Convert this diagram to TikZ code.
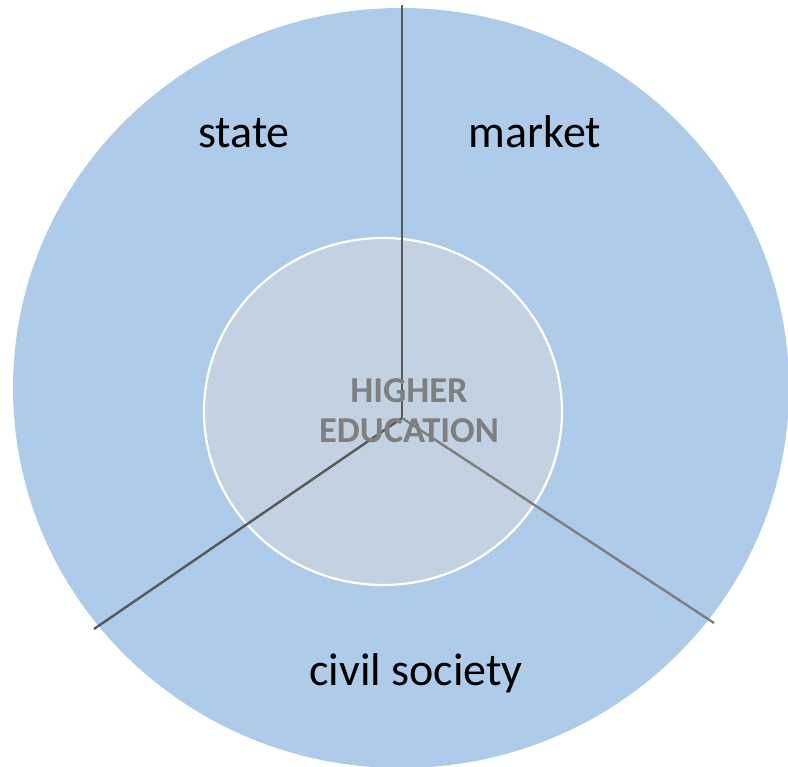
\documentclass[tikz,border=0pt]{standalone}
\usepackage{fontspec}
\setmainfont{Carlito}
\definecolor{outerblue}{HTML}{AECCEA}
\definecolor{innerblue}{HTML}{C2D2E2}
\definecolor{darkline}{HTML}{595959}
\definecolor{lightline}{HTML}{7F7F7F}
\definecolor{hetext}{HTML}{7F7F7F}
\begin{document}
\begin{tikzpicture}[x=1pt,y=-1pt,
  sector/.style={font=\fontsize{46}{50}\selectfont, anchor=base, inner sep=0pt},
  divider/.style={line width=2.4pt},
  core/.style={font=\bfseries\fontsize{36.5}{40}\selectfont, text=hetext, align=center, inner sep=0pt}]
\useasboundingbox (0,0) rectangle (788,767);
\clip (0,0) rectangle (788,767);
\fill[outerblue] (401,388) ellipse [x radius=388, y radius=380];
\filldraw[fill=innerblue, draw=white, line width=2.2pt] (383,411.5) ellipse [x radius=179, y radius=173.5];
\coordinate (c) at (402,418);
\coordinate (top) at (402,5);
\coordinate (bl) at (94,629);
\coordinate (br) at (714,623);
\draw[divider, darkline] (c) -- (top);
\draw[divider, darkline] (c) -- (bl);
\draw[divider, lightline] (c) -- (br);
\node[sector] (state) at (244,148) {state};
\node[sector] (market) at (535,148) {market};
\node[sector] (civil) at (416,685) {civil society};
\node[core] (he) at (409,411) {HIGHER\\EDUCATION};
\end{tikzpicture}
\end{document}
